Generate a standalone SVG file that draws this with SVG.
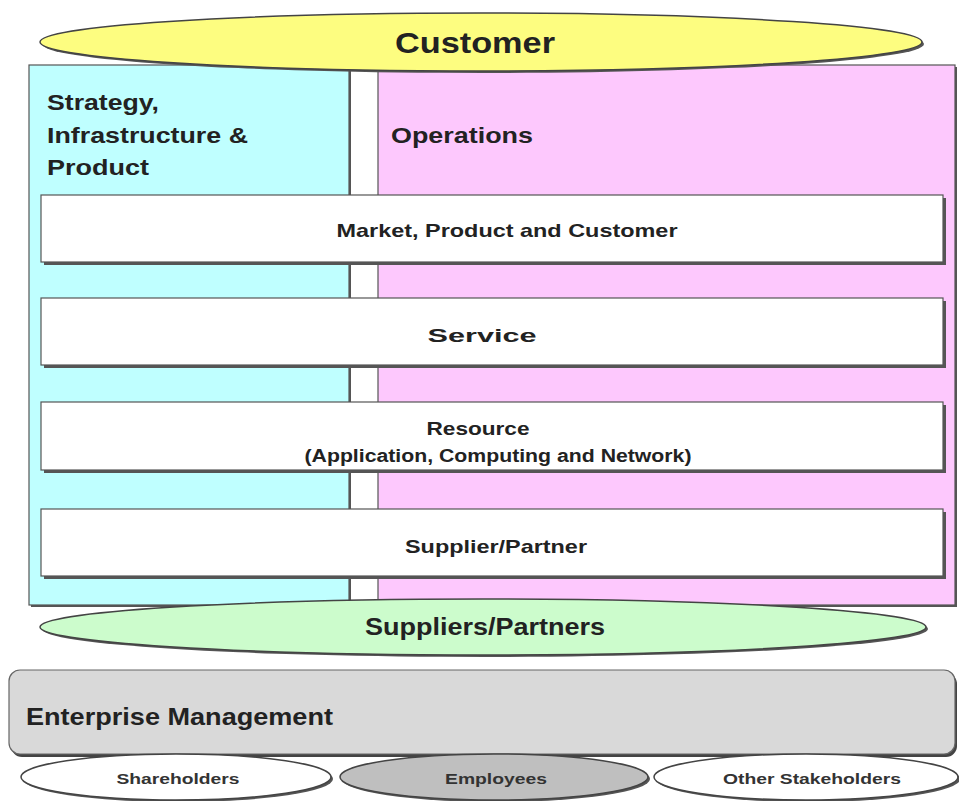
<svg xmlns="http://www.w3.org/2000/svg" width="959" height="801" viewBox="0 0 959 801">
<style>
.t{font-family:"Liberation Sans",Arial,sans-serif;font-weight:bold;fill:#222;}
.box{fill:#fff;stroke:#555;stroke-width:1.2;}
.sh{fill:#555;}
.ell{stroke:#444;stroke-width:1.5;}
</style>
<rect width="959" height="801" fill="#fff"/>
<g id="strategy">
<rect x="31" y="67" width="320" height="540" fill="#555"/>
<rect x="29" y="65" width="320" height="540" fill="#bfffff" stroke="#555" stroke-width="1.2"/>
<text class="t" x="47" y="110" font-size="22" textLength="112" lengthAdjust="spacingAndGlyphs">Strategy,</text>
<text class="t" x="47" y="143" font-size="22" textLength="201" lengthAdjust="spacingAndGlyphs">Infrastructure &amp;</text>
<text class="t" x="47" y="175" font-size="22" textLength="102" lengthAdjust="spacingAndGlyphs">Product</text>
</g>
<g id="operations">
<rect x="380" y="67" width="577" height="540" fill="#555"/>
<rect x="378" y="65" width="577" height="540" fill="#fdc8fd" stroke="#555" stroke-width="1.2"/>
<text class="t" x="391" y="143" font-size="22" textLength="142" lengthAdjust="spacingAndGlyphs">Operations</text>
</g>
<g id="customer">
<ellipse cx="483" cy="44" rx="441" ry="29" fill="#555"/>
<ellipse cx="481" cy="42" rx="441" ry="29" fill="#fdfd80" class="ell"/>
<text class="t" x="475" y="53" font-size="30" text-anchor="middle" textLength="160" lengthAdjust="spacingAndGlyphs">Customer</text>
</g>
<g id="market">
<rect x="44" y="198" width="902" height="67" class="sh"/>
<rect x="41" y="195" width="902" height="67" class="box"/>
<text class="t" x="507" y="237" font-size="19" text-anchor="middle" textLength="341" lengthAdjust="spacingAndGlyphs">Market, Product and Customer</text>
</g>
<g id="service">
<rect x="44" y="301" width="902" height="67" class="sh"/>
<rect x="41" y="298" width="902" height="67" class="box"/>
<text class="t" x="482" y="342" font-size="19" text-anchor="middle" textLength="109" lengthAdjust="spacingAndGlyphs">Service</text>
</g>
<g id="resource">
<rect x="44" y="405" width="902" height="68" class="sh"/>
<rect x="41" y="402" width="902" height="68" class="box"/>
<text class="t" x="478" y="435" font-size="19" text-anchor="middle" textLength="103" lengthAdjust="spacingAndGlyphs">Resource</text>
<text class="t" x="498" y="462" font-size="18" text-anchor="middle" textLength="387" lengthAdjust="spacingAndGlyphs">(Application, Computing and Network)</text>
</g>
<g id="supplier">
<rect x="44" y="512" width="902" height="67" class="sh"/>
<rect x="41" y="509" width="902" height="67" class="box"/>
<text class="t" x="496" y="553" font-size="19" text-anchor="middle" textLength="182" lengthAdjust="spacingAndGlyphs">Supplier/Partner</text>
</g>
<g id="suppliers-partners">
<ellipse cx="485" cy="629" rx="443" ry="28" fill="#555"/>
<ellipse cx="483" cy="627" rx="443" ry="28" fill="#ccfccc" class="ell"/>
<text class="t" x="485" y="635" font-size="23" text-anchor="middle" textLength="240" lengthAdjust="spacingAndGlyphs">Suppliers/Partners</text>
</g>
<g id="enterprise">
<rect x="11" y="673" width="946" height="84" rx="11" fill="#444"/>
<rect x="9" y="670" width="946" height="84" rx="11" fill="#d9d9d9" stroke="#666" stroke-width="1.2"/>
<text class="t" x="26" y="725" font-size="24" textLength="307" lengthAdjust="spacingAndGlyphs">Enterprise Management</text>
</g>
<g id="shareholders">
<ellipse cx="178" cy="779" rx="155" ry="23" fill="#555"/>
<ellipse cx="176" cy="777" rx="155" ry="23" fill="#fff" class="ell"/>
<text class="t" x="178" y="784" font-size="15" text-anchor="middle" textLength="123" lengthAdjust="spacingAndGlyphs" style="fill:#333">Shareholders</text>
</g>
<g id="employees">
<ellipse cx="496" cy="779" rx="154" ry="23" fill="#555"/>
<ellipse cx="494" cy="777" rx="154" ry="23" fill="#bfbfbf" class="ell"/>
<text class="t" x="496" y="784" font-size="15" text-anchor="middle" textLength="102" lengthAdjust="spacingAndGlyphs" style="fill:#333">Employees</text>
</g>
<g id="other-stakeholders">
<ellipse cx="808" cy="779" rx="152" ry="23" fill="#555"/>
<ellipse cx="806" cy="777" rx="152" ry="23" fill="#fff" class="ell"/>
<text class="t" x="812" y="784" font-size="15" text-anchor="middle" textLength="178" lengthAdjust="spacingAndGlyphs" style="fill:#333">Other Stakeholders</text>
</g>
<g id="connectors"></g>
</svg>
